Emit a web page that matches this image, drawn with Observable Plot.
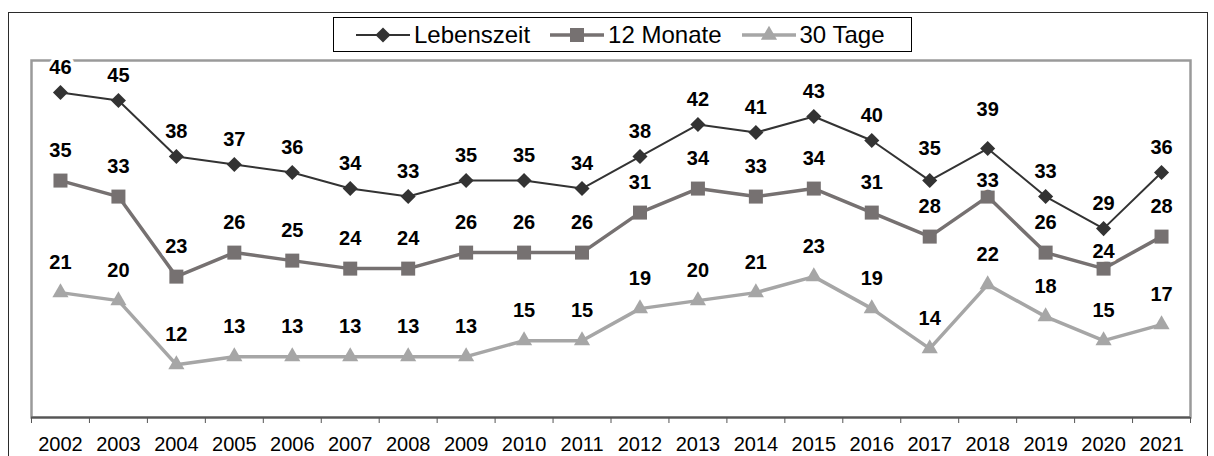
<!DOCTYPE html>
<html>
<head>
<meta charset="utf-8">
<script src="https://cdn.jsdelivr.net/npm/d3@7"></script>
<script src="https://cdn.jsdelivr.net/npm/@observablehq/plot@0.6"></script>
<style>
  html, body { margin: 0; padding: 0; background: #fff; }
  #wrap { position: relative; width: 1214px; height: 456px; overflow: hidden; background: #fff;
          font-family: "Liberation Sans", Arial, sans-serif; }
  #outer { position: absolute; left: 8px; top: 12px; width: 1200px; height: 470px;
           border: 1.5px solid #2b2b2b; box-sizing: border-box; }
  #chart { position: absolute; left: 0; top: 0; }
  #legend { position: absolute; left: 333px; top: 17px; width: 579px; height: 35px;
            border: 1px solid #000; background: #fff; box-sizing: border-box;
            display: flex; align-items: center; padding-left: 22px; }
  .item { display: flex; align-items: center; margin-right: 20px; font-size: 24px; color: #000; }
  .item svg { margin-right: 4px; }
</style>
</head>
<body>
<div id="wrap">
  <div id="outer"></div>
  <div id="chart"></div>
  <div id="legend"></div>
</div>
<script>
// ---- data ----
const years = ["2002","2003","2004","2005","2006","2007","2008","2009","2010","2011",
               "2012","2013","2014","2015","2016","2017","2018","2019","2020","2021"];
const seriesNames = ["Lebenszeit", "12 Monate", "30 Tage"];
const lebenszeit = [46,45,38,37,36,34,33,35,35,34,38,42,41,43,40,35,39,33,29,36];
const monate12   = [35,33,23,26,25,24,24,26,26,26,31,34,33,34,31,28,33,26,24,28];
const tage30     = [21,20,12,13,13,13,13,13,15,15,19,20,21,23,19,14,22,18,15,17];

// ---- styling / layout ----
const W = 1214, H = 456, mL = 31, mR = 24, mT = 60, mB = 39;
const step = (W - mL - mR) / years.length;
const yDomain = [5.4, 50];
const styles = [
  {name: seriesNames[0], values: lebenszeit, color: "#333333", width: 2,   symbol: "diamond2", r: 6.8, dy: -25},
  {name: seriesNames[1], values: monate12,   color: "#767171", width: 3.5, symbol: "square",   r: 7.9, dy: -30},
  {name: seriesNames[2], values: tage30,     color: "#a6a6a6", width: 3.5, symbol: "triangle", r: 6.0, dy: -30}
];
// manual label nudges (extra pixel offset) as in the original
const labelNudge = {
  "Lebenszeit|2017": -7,
  "Lebenszeit|2018": -14,
  "12 Monate|2018": 14,
  "12 Monate|2020": 13
};

const rows = styles.flatMap(s => years.map((y, i) => ({series: s.name, year: y, value: s.values[i]})));

const marks = [
  Plot.frame({stroke: "#9a9a9a", strokeWidth: 2.5}),
];
for (const s of styles) {
  const d = rows.filter(r => r.series === s.name);
  marks.push(Plot.line(d, {x: "year", y: "value", stroke: s.color, strokeWidth: s.width}));
  marks.push(Plot.dot(d, {x: "year", y: "value", symbol: s.symbol, r: s.r, fill: s.color, stroke: "none"}));
}
marks.push(Plot.ruleY([yDomain[0]], {stroke: "#555", strokeWidth: 2}));
marks.push(Plot.axisX({ticks: years, tickSize: 6, dx: -step / 2, tickFormat: () => "", stroke: "#555", label: null}));
marks.push(Plot.axisX({ticks: [years[years.length - 1]], tickSize: 6, dx: step / 2, tickFormat: () => "", stroke: "#555", label: null}));
marks.push(Plot.axisX({tickSize: 0, tickPadding: 19, fontSize: 20, fill: "#000", label: null}));
for (const s of styles) {
  const d = rows.filter(r => r.series === s.name);
  const groups = d3.group(d, r => labelNudge[r.series + "|" + r.year] || 0);
  for (const [nudge, g] of groups) {
    marks.push(Plot.text(g, {
      x: "year", y: "value", text: r => String(r.value), dy: s.dy + nudge,
      fontSize: 20, fontWeight: "bold", fill: "#000",
      stroke: "white", strokeWidth: 7, paintOrder: "stroke"
    }));
  }
}

const chart = Plot.plot({
  width: W, height: H,
  marginLeft: mL, marginRight: mR, marginTop: mT, marginBottom: mB,
  x: {type: "point", domain: years, padding: 0.5, round: false, label: null},
  y: {domain: yDomain, axis: null},
  style: {fontFamily: "'Liberation Sans', Arial, sans-serif", background: "transparent", overflow: "visible"},
  marks
});
document.getElementById("chart").appendChild(chart);

// ---- legend ----
const legend = d3.select("#legend");
for (const s of styles) {
  const item = legend.append("div").attr("class", "item");
  const svg = item.append("svg").attr("width", 54).attr("height", 22);
  svg.append("line").attr("x1", 0).attr("x2", 54).attr("y1", 11).attr("y2", 11)
     .attr("stroke", s.color).attr("stroke-width", s.width);
  const sym = {diamond2: d3.symbolDiamond2, square: d3.symbolSquare, triangle: d3.symbolTriangle}[s.symbol];
  svg.append("path").attr("transform", "translate(27,11)")
     .attr("d", d3.symbol(sym, Math.PI * s.r * s.r)()).attr("fill", s.color);
  item.append("span").text(s.name);
}
</script>
</body>
</html>
